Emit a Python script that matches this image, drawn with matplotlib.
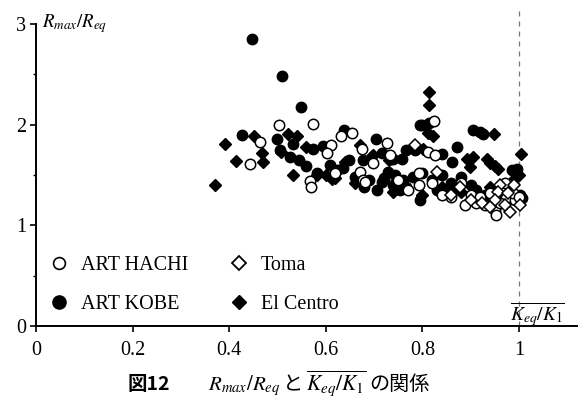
import matplotlib
matplotlib.use("Agg")
import matplotlib.pyplot as plt
from matplotlib.lines import Line2D

plt.rcParams['font.family'] = ['Liberation Serif', 'DejaVu Serif']
plt.rcParams['mathtext.fontset'] = 'stix'

# ---- data ----
kobe_x = [0.447, 0.510, 0.549, 0.427, 0.498, 0.505, 0.533, 0.526, 0.545, 0.560, 0.574, 0.594,
          0.609, 0.623, 0.636, 0.647, 0.638, 0.703, 0.678, 0.716, 0.736, 0.757, 0.766, 0.785,
          0.795, 0.799, 0.814, 0.581, 0.729, 0.743, 0.716, 0.705, 0.754, 0.767, 0.754, 0.795,
          0.840, 0.872, 0.861, 0.740, 0.905, 0.919, 0.926, 0.985, 0.995, 1.002, 1.006,
          0.82, 0.84, 0.86, 0.88, 0.90, 0.83, 0.85, 0.87, 0.91, 0.93, 0.78, 0.80, 0.69,
          0.72, 0.66, 0.68, 0.74, 0.76, 0.99, 0.97]
kobe_y = [2.85, 2.48, 2.18, 1.90, 1.86, 1.75, 1.81, 1.68, 1.65, 1.59, 1.76, 1.79,
          1.60, 1.55, 1.57, 1.65, 1.95, 1.86, 1.65, 1.72, 1.66, 1.66, 1.75, 1.75,
          2.00, 2.00, 2.02, 1.52, 1.53, 1.50, 1.43, 1.35, 1.43, 1.38, 1.35, 1.25,
          1.71, 1.78, 1.63, 1.66, 1.95, 1.93, 1.91, 1.55, 1.56, 1.30, 1.27,
          1.45, 1.50, 1.42, 1.48, 1.40, 1.35, 1.32, 1.38, 1.35, 1.30, 1.48, 1.52, 1.45,
          1.47, 1.48, 1.38, 1.40, 1.45, 1.30, 1.28]

elc_x = [0.391, 0.414, 0.370, 0.451, 0.467, 0.471, 0.522, 0.541, 0.507, 0.533, 0.581, 0.612,
         0.619, 0.671, 0.698, 0.696, 0.814, 0.814, 0.812, 0.821, 0.948, 1.004, 0.802, 0.892,
         0.904, 0.933, 0.940, 0.957, 0.950, 0.899, 0.992, 0.999, 0.73, 0.66, 0.74, 0.80,
         0.84, 0.88, 0.94, 0.64, 0.56, 0.60]
elc_y = [1.81, 1.64, 1.40, 1.89, 1.72, 1.63, 1.91, 1.89, 1.73, 1.50, 1.50, 1.46,
         1.47, 1.80, 1.70, 1.69, 2.32, 2.20, 1.92, 1.89, 1.91, 1.71, 1.76, 1.66,
         1.68, 1.66, 1.62, 1.56, 1.59, 1.58, 1.47, 1.50, 1.65, 1.42, 1.33, 1.30,
         1.38, 1.33, 1.38, 1.63, 1.78, 1.50]

hachi_x = [0.503, 0.573, 0.464, 0.443, 0.567, 0.611, 0.602, 0.655, 0.631, 0.674, 0.698, 0.671,
           0.676, 0.681, 0.726, 0.733, 0.771, 0.792, 0.792, 0.825, 0.812, 0.826, 0.888, 0.912,
           0.930, 0.950, 0.952, 0.973, 0.992, 0.988, 0.86, 0.82, 0.84, 0.90, 0.92, 0.96,
           0.62, 0.57, 0.75, 0.88, 0.94, 0.97, 1.00]
hachi_y = [2.00, 2.01, 1.83, 1.61, 1.44, 1.80, 1.72, 1.92, 1.89, 1.76, 1.62, 1.53,
           1.45, 1.43, 1.82, 1.70, 1.35, 1.52, 1.40, 2.04, 1.73, 1.70, 1.20, 1.22,
           1.20, 1.15, 1.10, 1.27, 1.25, 1.32, 1.28, 1.42, 1.30, 1.30, 1.28, 1.22,
           1.52, 1.38, 1.45, 1.42, 1.32, 1.42, 1.28]

toma_x = [0.785, 0.961, 0.957, 0.981, 1.002, 0.923, 0.878, 0.830, 0.978, 0.95, 0.90, 0.94,
          0.99, 0.86, 0.97]
toma_y = [1.80, 1.40, 1.33, 1.13, 1.20, 1.22, 1.38, 1.53, 1.32, 1.25, 1.25, 1.18,
          1.40, 1.30, 1.20]

x_ticks = [0, 0.2, 0.4, 0.6, 0.8, 1]
x_labels = ['0', '0.2', '0.4', '0.6', '0.8', '1']
y_ticks = [0, 1, 2, 3]
y_labels = ['0', '1', '2', '3']

# ---- figure ----
fig = plt.figure(figsize=(5.78, 3.98), dpi=100)
ax = fig.add_axes([36/578, 72/398, 542/578, 302/398])
ax.set_xlim(0, 542/483)
ax.set_ylim(0, 3)

ax.axvline(1.0, ymin=0, ymax=1.06, color='#777777', lw=0.9, ls=(0, (4, 4)), clip_on=False, zorder=1)

ms_c = 7.5
ms_d = 6.2
ax.plot(elc_x, elc_y, ls='none', marker='D', ms=ms_d, mfc='black', mec='black', mew=1.0, zorder=3)
ax.plot(kobe_x, kobe_y, ls='none', marker='o', ms=ms_c, mfc='black', mec='black', mew=1.0, zorder=3)
ax.plot(hachi_x, hachi_y, ls='none', marker='o', ms=ms_c, mfc='white', mec='black', mew=1.1, zorder=4)
ax.plot(toma_x, toma_y, ls='none', marker='D', ms=ms_d, mfc='white', mec='black', mew=1.1, zorder=4)

for s in ['top', 'right']:
    ax.spines[s].set_visible(False)
for s in ['left', 'bottom']:
    ax.spines[s].set_linewidth(1.4)

ax.set_xticks(x_ticks)
ax.set_xticklabels(x_labels)
ax.set_yticks(y_ticks)
ax.set_yticklabels(y_labels)
ax.set_yticks([0.5, 1.5, 2.5], minor=True)
ax.tick_params(axis='x', which='major', direction='out', length=4, width=1.2, labelsize=14.5, pad=7)
ax.tick_params(axis='y', which='major', direction='out', length=4, width=1.2, labelsize=14.5, pad=3)
ax.tick_params(axis='y', which='minor', direction='out', length=2, width=1.0)

ax.text(0.012, 2.97, r'$R_{max}/R_{eq}$', fontsize=13.5, ha='left', va='baseline')
ax.text(1.038, 0.11, r'$\overline{K_{eq}/K_1}$', fontsize=14, ha='center', va='center')

handles = [
    Line2D([], [], ls='none', marker='o', ms=8.5, mfc='white', mec='black', mew=1.2),
    Line2D([], [], ls='none', marker='o', ms=9.5, mfc='black', mec='black'),
    Line2D([], [], ls='none', marker='D', ms=7, mfc='white', mec='black', mew=1.3),
    Line2D([], [], ls='none', marker='D', ms=7, mfc='black', mec='black'),
]
labels = ['ART HACHI', 'ART KOBE', 'Toma', 'El Centro']
ax.legend(handles, labels, ncol=2, loc='lower left', bbox_to_anchor=(-0.01, -0.02),
          frameon=False, fontsize=14.5, handlelength=1.0, handletextpad=0.6,
          labelspacing=1.0, columnspacing=2.0)

# ---- caption ----
cap_y = 8/398
cjk = ['Noto Sans CJK JP', 'DejaVu Sans']
t1 = fig.text(128/578, cap_y, '図12', fontsize=14, family=cjk, fontweight='bold', ha='left', va='baseline')
t2 = ax.annotate(r'$R_{max}/R_{eq}$', xy=(1, cap_y), xycoords=(t1, 'figure fraction'),
                 xytext=(27, 0), textcoords='offset points', fontsize=15, ha='left', va='baseline',
                 annotation_clip=False)
t3 = ax.annotate('と', xy=(1, cap_y), xycoords=(t2, 'figure fraction'),
                 xytext=(2, 0), textcoords='offset points', fontsize=14.5, family=cjk, ha='left', va='baseline',
                 annotation_clip=False)
t4 = ax.annotate(r'$\overline{K_{eq}/K_1}$', xy=(1, cap_y), xycoords=(t3, 'figure fraction'),
                 xytext=(2, 0), textcoords='offset points', fontsize=15.5, ha='left', va='baseline',
                 annotation_clip=False)
t5 = ax.annotate('の関係', xy=(1, cap_y), xycoords=(t4, 'figure fraction'),
                 xytext=(2, 0), textcoords='offset points', fontsize=14.5, family=cjk, ha='left', va='baseline',
                 annotation_clip=False)

fig.savefig('out.png', dpi=100)
